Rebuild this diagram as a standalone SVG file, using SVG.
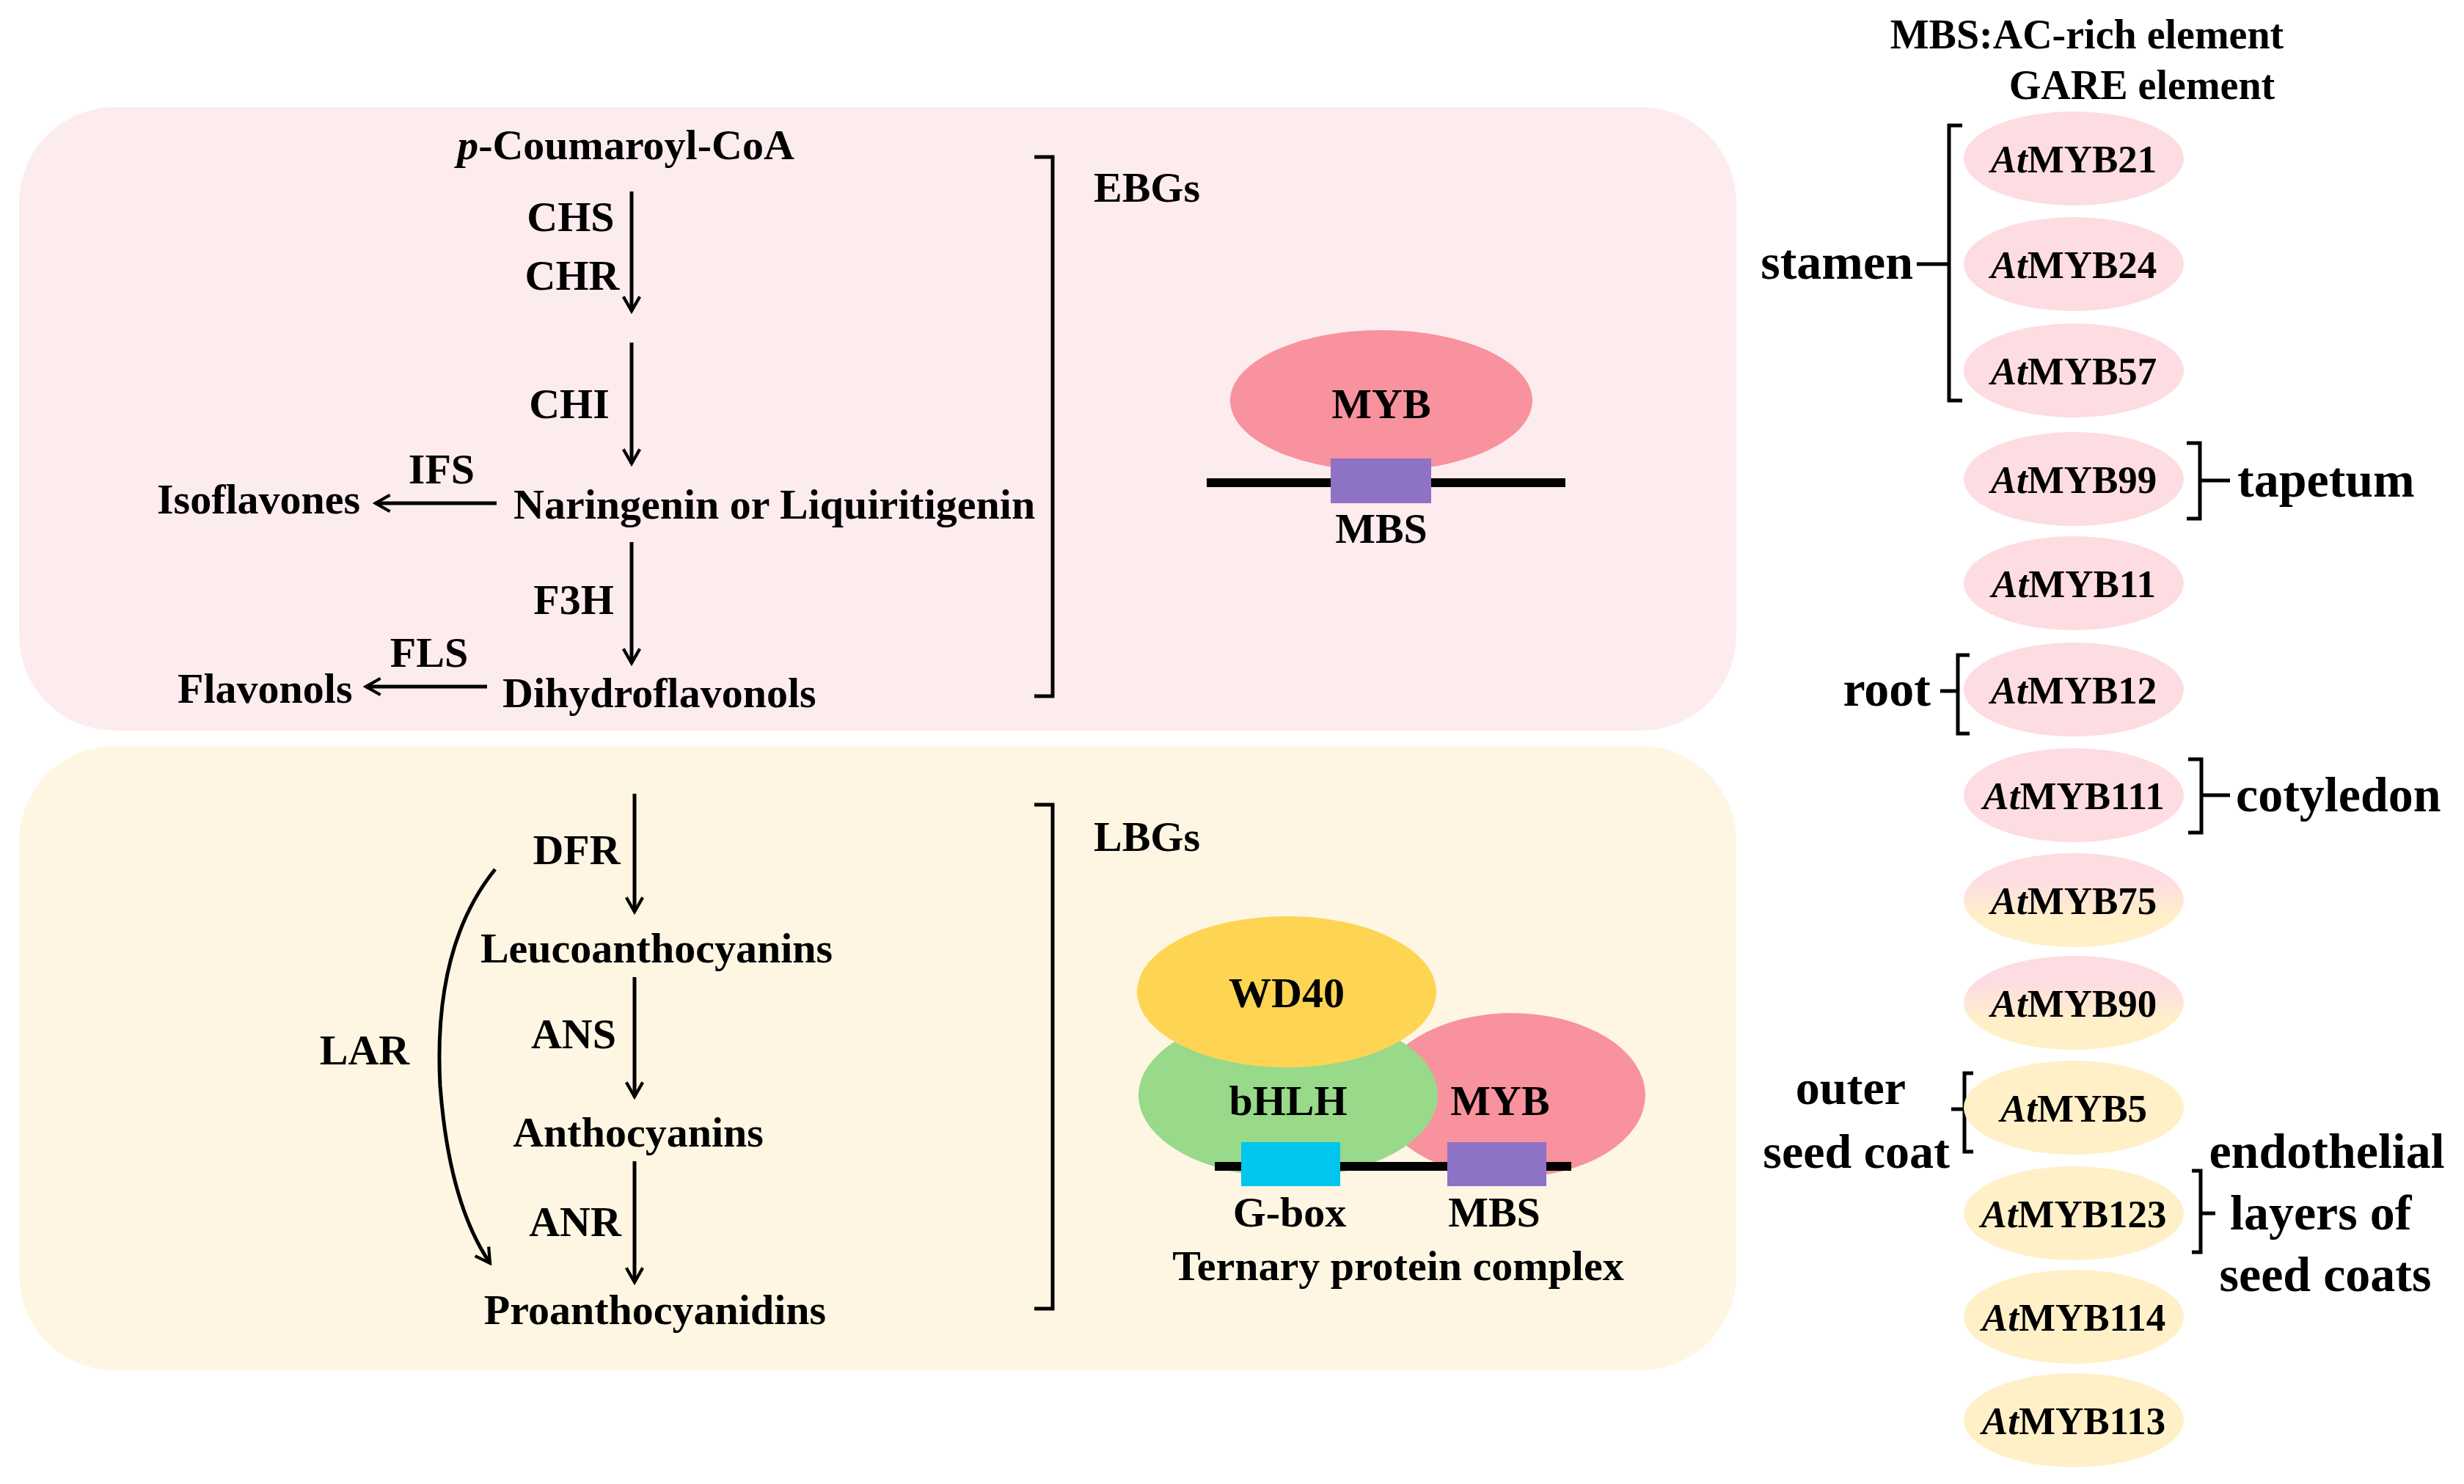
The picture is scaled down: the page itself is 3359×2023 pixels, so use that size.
<svg xmlns="http://www.w3.org/2000/svg" width="3359" height="2023" viewBox="0 0 3359 2023">
<style>
text{font-family:"Liberation Serif","Times New Roman",serif;font-weight:bold;fill:#000}
.t{font-size:58px}
.g{font-size:53px}
.lg{font-size:56px}
.m{text-anchor:middle}
.e{text-anchor:end}
.big{font-size:68px}
.sm{font-size:66px}
.ln{stroke:#000;stroke-width:5;fill:none}
.br{stroke:#000;stroke-width:5;fill:none}
.pk{fill:#FDDDE1}
.yl{fill:#FFF0C8}
</style>
<defs>
<marker id="ah2" viewBox="0 0 20 20" refX="17" refY="10" markerWidth="28" markerHeight="28" orient="auto" markerUnits="userSpaceOnUse">
<path d="M3,2 L17,10 L3,18" fill="none" stroke="#000" stroke-width="3"/>
</marker>
<linearGradient id="g" x1="0" y1="0" x2="0" y2="1">
<stop offset="0.3" stop-color="#FDDDE1"/><stop offset="0.7" stop-color="#FFF0C8"/>
</linearGradient>
</defs>
<rect x="0" y="0" width="3359" height="2023" fill="#fff"/>
<rect id="ebg-panel" x="26" y="146" width="2341" height="850" rx="130" fill="#FDECEE"/>
<rect id="lbg-panel" x="26" y="1017" width="2341" height="851" rx="130" fill="#FEF6E3"/>

<g id="connectors">
<line class="ln" x1="861" y1="261" x2="861" y2="424" marker-end="url(#ah2)"/>
<line class="ln" x1="861" y1="467" x2="861" y2="632" marker-end="url(#ah2)"/>
<line class="ln" x1="861" y1="739" x2="861" y2="904" marker-end="url(#ah2)"/>
<line class="ln" x1="677" y1="686" x2="512" y2="686" marker-end="url(#ah2)"/>
<line class="ln" x1="664" y1="936" x2="499" y2="936" marker-end="url(#ah2)"/>
<line class="ln" x1="865" y1="1082" x2="865" y2="1243" marker-end="url(#ah2)"/>
<line class="ln" x1="865" y1="1332" x2="865" y2="1495" marker-end="url(#ah2)"/>
<line class="ln" x1="865" y1="1583" x2="865" y2="1748" marker-end="url(#ah2)"/>
<path class="ln" d="M675,1185 Q590,1290 600,1480 Q612,1640 668,1722" marker-end="url(#ah2)"/>
</g>

<g id="brackets">
<path class="br" d="M1410,214 H1435 V949 H1410"/>
<path class="br" d="M1410,1097 H1435 V1784 H1410"/>
<path class="br" d="M2675,171 H2657 V546 H2675 M2657,360 H2613"/>
<path class="br" d="M2981,604 H2999 V707 H2981 M2999,655 H3040"/>
<path class="br" d="M2685,893 H2669 V1000 H2685 M2669,942 H2645"/>
<path class="br" d="M2983,1035 H3001 V1135 H2983 M3001,1084 H3040"/>
<path class="br" d="M2690,1463 H2678 V1570 H2690 M2678,1512 H2660"/>
<path class="br" d="M2988,1596 H3000 V1707 H2988 M3000,1654 H3020"/>
</g>

<g id="pathway-text">
<text class="t m" x="853" y="217"><tspan font-style="italic">p</tspan>-Coumaroyl-CoA</text>
<text class="t m" x="778" y="315">CHS</text>
<text class="t m" x="780" y="395">CHR</text>
<text class="t m" x="776" y="570">CHI</text>
<text class="t" x="700" y="707">Naringenin or Liquiritigenin</text>
<text class="t" x="214" y="700">Isoflavones</text>
<text class="t m" x="602" y="659">IFS</text>
<text class="t m" x="782" y="837">F3H</text>
<text class="t" x="685" y="964">Dihydroflavonols</text>
<text class="t" x="242" y="958">Flavonols</text>
<text class="t m" x="585" y="909">FLS</text>
<text class="t" x="1491" y="275">EBGs</text>
<text class="t m" x="786" y="1178">DFR</text>
<text class="t m" x="895" y="1312">Leucoanthocyanins</text>
<text class="t m" x="782" y="1429">ANS</text>
<text class="t m" x="870" y="1563">Anthocyanins</text>
<text class="t m" x="784" y="1685">ANR</text>
<text class="t m" x="893" y="1805">Proanthocyanidins</text>
<text class="t m" x="497" y="1451">LAR</text>
<text class="t" x="1491" y="1160">LBGs</text>
</g>

<g id="myb-ebg">
<ellipse cx="1883" cy="546" rx="206" ry="96" fill="#F8929E"/>
<line x1="1645" y1="658" x2="2134" y2="658" stroke="#000" stroke-width="12"/>
<rect x="1814" y="625" width="137" height="61" fill="#8E72C6"/>
<text class="t m" x="1883" y="570">MYB</text>
<text class="t m" x="1883" y="740">MBS</text>
</g>

<g id="ternary-complex">
<ellipse cx="2061" cy="1493" rx="182" ry="112" fill="#F8929E"/>
<ellipse cx="1756" cy="1493" rx="204" ry="112" fill="#98D98A"/>
<ellipse cx="1754" cy="1352" rx="204" ry="103" fill="#FDD553"/>
<line x1="1656" y1="1590" x2="2142" y2="1590" stroke="#000" stroke-width="12"/>
<rect x="1692" y="1557" width="135" height="60" fill="#00C5EC"/>
<rect x="1973" y="1557" width="135" height="60" fill="#8E72C6"/>
<text class="t m" x="1754" y="1373">WD40</text>
<text class="t m" x="1756" y="1520">bHLH</text>
<text class="t m" x="2045" y="1520">MYB</text>
<text class="t m" x="1758" y="1672">G-box</text>
<text class="t m" x="2037" y="1672">MBS</text>
<text class="t m" x="1906" y="1745">Ternary protein complex</text>
</g>

<g id="legend">
<text class="lg m" x="2845" y="66">MBS:AC-rich element</text>
<text class="lg m" x="2920" y="135">GARE element</text>
</g>

<g id="genes">
<g id="AtMYB21"><ellipse class="pk" cx="2827" cy="216" rx="150" ry="64"/><text class="g m" x="2827" y="235"><tspan font-style="italic">At</tspan>MYB21</text></g>
<g id="AtMYB24"><ellipse class="pk" cx="2827" cy="360" rx="150" ry="64"/><text class="g m" x="2827" y="379"><tspan font-style="italic">At</tspan>MYB24</text></g>
<g id="AtMYB57"><ellipse class="pk" cx="2827" cy="505" rx="150" ry="64"/><text class="g m" x="2827" y="524"><tspan font-style="italic">At</tspan>MYB57</text></g>
<g id="AtMYB99"><ellipse class="pk" cx="2827" cy="653" rx="150" ry="64"/><text class="g m" x="2827" y="672"><tspan font-style="italic">At</tspan>MYB99</text></g>
<g id="AtMYB11"><ellipse class="pk" cx="2827" cy="795" rx="150" ry="64"/><text class="g m" x="2827" y="814"><tspan font-style="italic">At</tspan>MYB11</text></g>
<g id="AtMYB12"><ellipse class="pk" cx="2827" cy="940" rx="150" ry="64"/><text class="g m" x="2827" y="959"><tspan font-style="italic">At</tspan>MYB12</text></g>
<g id="AtMYB111"><ellipse class="pk" cx="2827" cy="1084" rx="150" ry="64"/><text class="g m" x="2827" y="1103"><tspan font-style="italic">At</tspan>MYB111</text></g>
<g id="AtMYB75"><ellipse fill="url(#g)" cx="2827" cy="1227" rx="150" ry="64"/><text class="g m" x="2827" y="1246"><tspan font-style="italic">At</tspan>MYB75</text></g>
<g id="AtMYB90"><ellipse fill="url(#g)" cx="2827" cy="1367" rx="150" ry="64"/><text class="g m" x="2827" y="1386"><tspan font-style="italic">At</tspan>MYB90</text></g>
<g id="AtMYB5"><ellipse class="yl" cx="2827" cy="1510" rx="150" ry="64"/><text class="g m" x="2827" y="1529"><tspan font-style="italic">At</tspan>MYB5</text></g>
<g id="AtMYB123"><ellipse class="yl" cx="2827" cy="1654" rx="150" ry="64"/><text class="g m" x="2827" y="1673"><tspan font-style="italic">At</tspan>MYB123</text></g>
<g id="AtMYB114"><ellipse class="yl" cx="2827" cy="1795" rx="150" ry="64"/><text class="g m" x="2827" y="1814"><tspan font-style="italic">At</tspan>MYB114</text></g>
<g id="AtMYB113"><ellipse class="yl" cx="2827" cy="1936" rx="150" ry="64"/><text class="g m" x="2827" y="1955"><tspan font-style="italic">At</tspan>MYB113</text></g>
</g>

<g id="tissues">
<text class="big e" x="2608" y="380">stamen</text>
<text class="big" x="3050" y="677">tapetum</text>
<text class="big e" x="2632" y="962">root</text>
<text class="big" x="3048" y="1106">cotyledon</text>
<text class="sm m" x="2523" y="1505">outer</text>
<text class="sm e" x="2658" y="1592">seed coat</text>
<text class="big m" x="3172" y="1592">endothelial</text>
<text class="big" x="3040" y="1676">layers of</text>
<text class="big m" x="3170" y="1760">seed coats</text>
</g>
</svg>
